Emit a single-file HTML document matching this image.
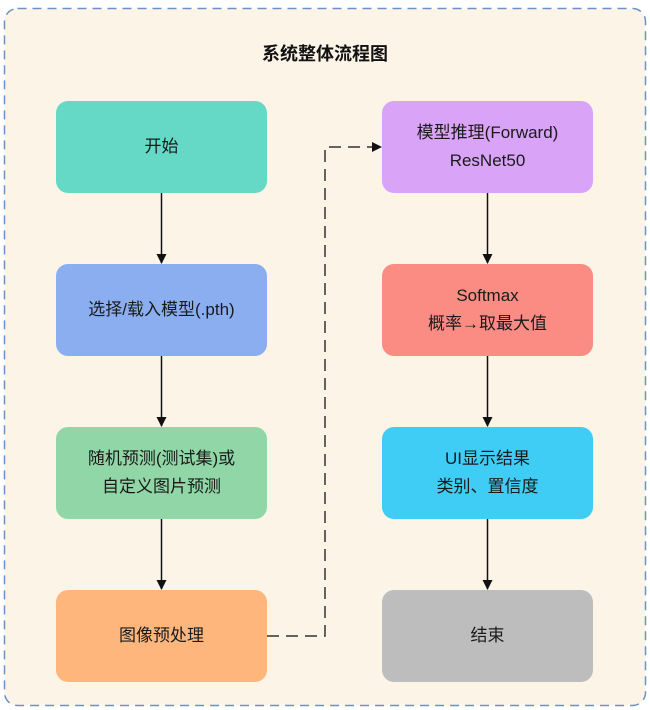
<!DOCTYPE html>
<html><head><meta charset="utf-8"><style>
body{margin:0;width:650px;height:710px;background:#fff;position:relative;overflow:hidden;font-family:"Liberation Sans","Noto Sans CJK SC",sans-serif;}
.b{position:absolute;width:211px;height:92px;border-radius:12px;display:flex;align-items:center;justify-content:center;text-align:center;font-size:17px;line-height:28px;color:#1a1a1a;}
</style></head><body>
<svg width="650" height="710" style="position:absolute;left:0;top:0">
<defs><marker id="a" markerWidth="10" markerHeight="10" refX="9" refY="5" orient="auto" markerUnits="userSpaceOnUse"><path d="M0,0 L10,5 L0,10 z" fill="#111"/></marker></defs>
<rect x="4.5" y="8.5" width="641" height="697" rx="13" fill="#fdf4e8" stroke="#6b92c4" stroke-width="1.5" stroke-dasharray="9,6"/>
<g stroke="#111" stroke-width="1.5" fill="none" marker-end="url(#a)">
<line x1="161.5" y1="193" x2="161.5" y2="263"/>
<line x1="161.5" y1="356" x2="161.5" y2="426"/>
<line x1="161.5" y1="519" x2="161.5" y2="589"/>
<line x1="487.5" y1="193" x2="487.5" y2="263"/>
<line x1="487.5" y1="356" x2="487.5" y2="426"/>
<line x1="487.5" y1="519" x2="487.5" y2="589"/>
<polyline points="267,636 325,636 325,147 381,147" stroke-dasharray="12,7" stroke="#333"/>
</g>
</svg>
<div style="position:absolute;left:0;width:650px;top:40px;text-align:center;font-weight:bold;font-size:18px;color:#111">系统整体流程图</div>
<div class="b" style="left:56px;top:101px;background:#66d9c6">开始</div>
<div class="b" style="left:56px;top:264px;background:#8aaef0">选择/载入模型(.pth)</div>
<div class="b" style="left:56px;top:427px;background:#90d6a6">随机预测(测试集)或<br>自定义图片预测</div>
<div class="b" style="left:56px;top:590px;background:#ffb67c">图像预处理</div>
<div class="b" style="left:382px;top:101px;background:#d9a3f7">模型推理(Forward)<br>ResNet50</div>
<div class="b" style="left:382px;top:264px;background:#fa8c84">Softmax<br>概率→取最大值</div>
<div class="b" style="left:382px;top:427px;background:#3fcdf6">UI显示结果<br>类别、置信度</div>
<div class="b" style="left:382px;top:590px;background:#bdbdbd">结束</div>
</body></html>
